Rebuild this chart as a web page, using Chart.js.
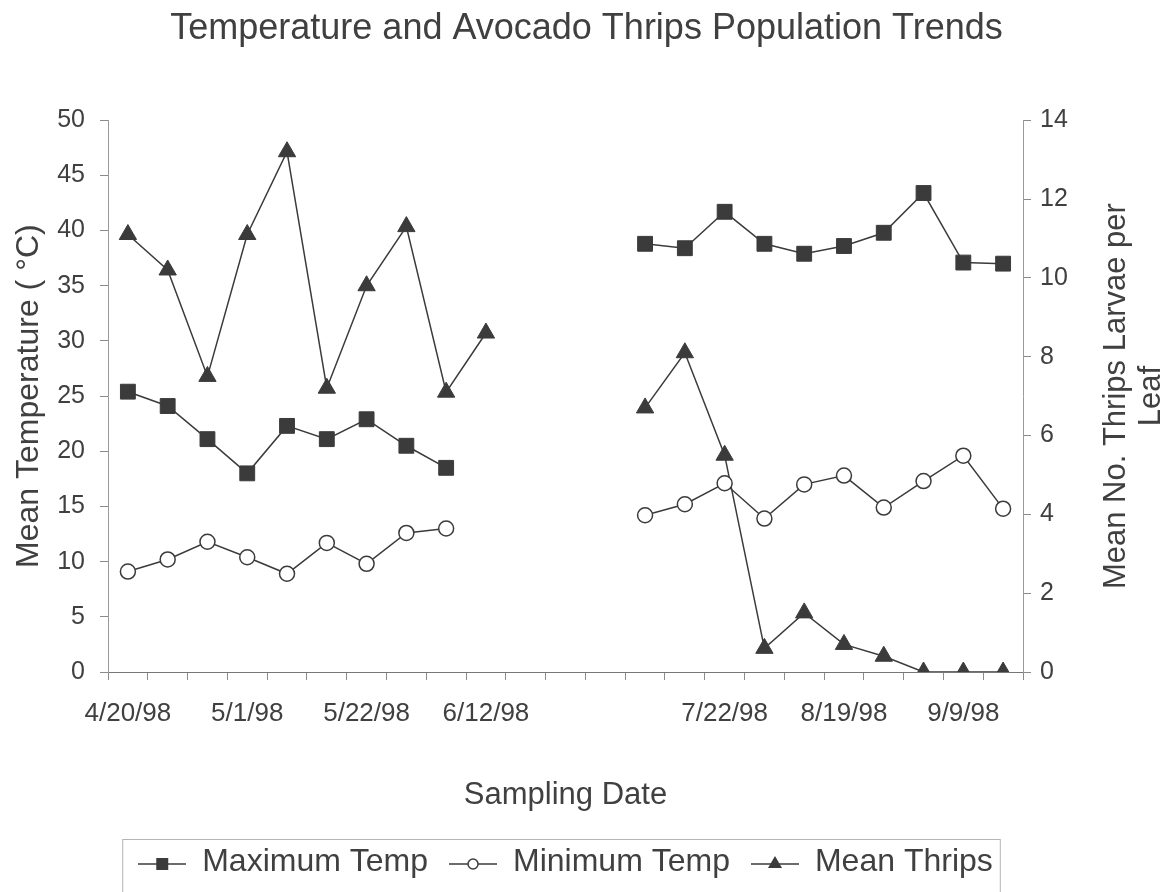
<!DOCTYPE html>
<html>
<head>
<meta charset="utf-8">
<title>Temperature and Avocado Thrips Population Trends</title>
<script src="https://cdn.jsdelivr.net/npm/chart.js@4.4.1/dist/chart.umd.min.js"></script>
<style>
  html, body { margin: 0; padding: 0; background: #fff; }
  #wrap { width: 1173px; height: 892px; }
</style>
</head>
<body>
<div id="wrap"><canvas id="chart"></canvas></div>
<script>
// sampling slots on the category axis (only some dates are labelled)
const categories = [
    "4/20/98", "", "", "5/1/98", "", "", "5/22/98", "", "", "6/12/98",
    "", "", "", "", "", "7/22/98", "", "", "8/19/98", "", "", "9/9/98", ""
];

const maxTemp = [
    25.4, 24.1, 21.1, 18.0, 22.3, 21.1, 22.9, 20.5, 18.5, null,
    null, null, null, 38.8, 38.4, 41.7, 38.8, 37.9, 38.6, 39.8, 43.4, 37.1, 37.0
];

const minTemp = [
    9.1, 10.2, 11.8, 10.4, 8.9, 11.7, 9.8, 12.6, 13.0, null,
    null, null, null, 14.2, 15.2, 17.1, 13.9, 17.0, 17.8, 14.9, 17.3, 19.6, 14.8
];

const meanThrips = [
    11.1, 10.2, 7.5, 11.1, 13.2, 7.2, 9.8, 11.3, 7.1, 8.6,
    null, null, null, 6.7, 8.1, 5.5, 0.6, 1.5, 0.7, 0.4, 0, 0, 0
];

const seriesNames = ["Maximum Temp", "Minimum Temp", "Mean Thrips"];

const tempAxis = { min: 0, max: 50, step: 5 };
const thripsAxis = { min: 0, max: 14, step: 2 };

const rightTitleLines = ["Mean No. Thrips Larvae per", "Leaf"];

const ink = "#3b3b3b";
const textInk = "#404040";
const axisInk = "#8a8a8a";
const family = "'Liberation Sans', Arial, sans-serif";

// small line + marker picture used as legend symbol
function legendSymbol(kind) {
    const c = document.createElement("canvas");
    c.width = 48;
    c.height = 24;
    const g = c.getContext("2d");
    g.strokeStyle = ink;
    g.fillStyle = ink;
    g.lineWidth = 1.5;
    g.beginPath();
    g.moveTo(0, 14);
    g.lineTo(48, 14);
    g.stroke();
    if (kind === "rect") {
        g.fillRect(18, 8, 12, 12);
    } else if (kind === "circle") {
        g.beginPath();
        g.arc(24, 14, 5, 0, Math.PI * 2);
        g.fillStyle = "#fff";
        g.fill();
        g.stroke();
    } else {
        g.beginPath();
        g.moveTo(24, 6);
        g.lineTo(31, 18);
        g.lineTo(17, 18);
        g.closePath();
        g.fill();
    }
    return c;
}

const rightTitle = {
    id: "rightTitle",
    afterDraw(chart) {
        const { ctx, chartArea } = chart;
        const cy = (chartArea.top + chartArea.bottom) / 2;
        ctx.save();
        ctx.font = "31px " + family;
        ctx.fillStyle = textInk;
        ctx.textAlign = "center";
        ctx.textBaseline = "middle";
        rightTitleLines.forEach((line, i) => {
            ctx.save();
            ctx.translate(chartArea.right + 93 + i * 35, cy);
            ctx.rotate(-Math.PI / 2);
            ctx.fillText(line, 0, 0);
            ctx.restore();
        });
        ctx.restore();
    }
};

const legendFrame = {
    id: "legendFrame",
    afterDraw(chart) {
        const boxes = chart.legend.legendHitBoxes;
        if (!boxes || !boxes.length) {
            return;
        }
        const first = boxes[0];
        const last = boxes[boxes.length - 1];
        const ctx = chart.ctx;
        ctx.save();
        ctx.strokeStyle = "#b5b5b5";
        ctx.lineWidth = 1;
        ctx.strokeRect(first.left - 15.5, first.top - 6.5, last.left + last.width - first.left + 23, 80);
        ctx.restore();
    }
};

new Chart(document.getElementById("chart"), {
    type: "line",

    data: {
        labels: categories,

        datasets: [
            {
                label: seriesNames[0],
                data: maxTemp,
                yAxisID: "yTemp",
                borderColor: ink,
                backgroundColor: ink,
                borderWidth: 1.5,
                pointStyle: "rect",
                pointRadius: 10.5,
                pointBackgroundColor: ink,
                pointBorderColor: ink,
                pointBorderWidth: 1
            },
            {
                label: seriesNames[1],
                data: minTemp,
                yAxisID: "yTemp",
                borderColor: ink,
                backgroundColor: "#fff",
                borderWidth: 1.5,
                pointStyle: "circle",
                pointRadius: 7.5,
                pointBackgroundColor: "#fff",
                pointBorderColor: ink,
                pointBorderWidth: 1.5
            },
            {
                label: seriesNames[2],
                data: meanThrips,
                yAxisID: "yThrips",
                borderColor: ink,
                backgroundColor: ink,
                borderWidth: 1.5,
                pointStyle: "triangle",
                pointRadius: 10,
                pointBackgroundColor: ink,
                pointBorderColor: ink,
                pointBorderWidth: 1
            }
        ]
    },

    options: {
        responsive: true,
        maintainAspectRatio: false,
        animation: false,
        spanGaps: false,

        layout: {
            padding: { left: 0, right: 0, top: 0, bottom: 4 }
        },

        plugins: {
            title: {
                display: true,
                text: "Temperature and Avocado Thrips Population Trends",
                color: textInk,
                font: { family: family, size: 36, weight: "normal" },
                padding: { top: 7, bottom: 70 }
            },

            legend: {
                position: "bottom",
                fullSize: false,
                labels: {
                    color: textInk,
                    font: { family: family, size: 32 },
                    usePointStyle: true,
                    pointStyleWidth: 48,
                    padding: 21,
                    generateLabels() {
                        const kinds = ["rect", "circle", "triangle"];
                        return seriesNames.map((name, i) => ({
                            text: name,
                            pointStyle: legendSymbol(kinds[i]),
                            fillStyle: ink,
                            strokeStyle: ink,
                            lineWidth: 0,
                            fontColor: textInk,
                            datasetIndex: i,
                            hidden: false
                        }));
                    }
                }
            },

            tooltip: { enabled: false }
        },

        scales: {
            x: {
                type: "category",
                offset: true,
                afterFit(scale) {
                    scale.height = 153;
                },
                grid: {
                    offset: true,
                    drawOnChartArea: false,
                    drawTicks: true,
                    tickLength: 8,
                    color: axisInk
                },
                border: { display: true, color: "#777" },
                ticks: {
                    autoSkip: false,
                    maxRotation: 0,
                    padding: 18,
                    color: textInk,
                    font: { family: family, size: 26 }
                },
                title: {
                    display: true,
                    text: "Sampling Date",
                    color: textInk,
                    font: { family: family, size: 31 },
                    padding: { top: 0, bottom: 11 }
                }
            },

            yTemp: {
                type: "linear",
                position: "left",
                min: tempAxis.min,
                max: tempAxis.max,
                afterFit(scale) {
                    scale.width = 108;
                },
                grid: {
                    drawOnChartArea: false,
                    drawTicks: true,
                    tickLength: 8,
                    color: axisInk
                },
                border: { display: true, color: "#999" },
                ticks: {
                    stepSize: tempAxis.step,
                    padding: 15,
                    color: textInk,
                    font: { family: family, size: 25 }
                },
                title: {
                    display: true,
                    text: "Mean Temperature ( °C)",
                    color: textInk,
                    font: { family: family, size: 32 },
                    padding: { top: 10, bottom: 0 }
                }
            },

            yThrips: {
                type: "linear",
                position: "right",
                min: thripsAxis.min,
                max: thripsAxis.max,
                afterFit(scale) {
                    scale.width = 150;
                },
                grid: {
                    drawOnChartArea: false,
                    drawTicks: true,
                    tickLength: 8,
                    color: axisInk
                },
                border: { display: true, color: "#999" },
                ticks: {
                    stepSize: thripsAxis.step,
                    padding: 9,
                    color: textInk,
                    font: { family: family, size: 25 }
                }
            }
        }
    },

    plugins: [rightTitle, legendFrame]
});
</script>
</body>
</html>
